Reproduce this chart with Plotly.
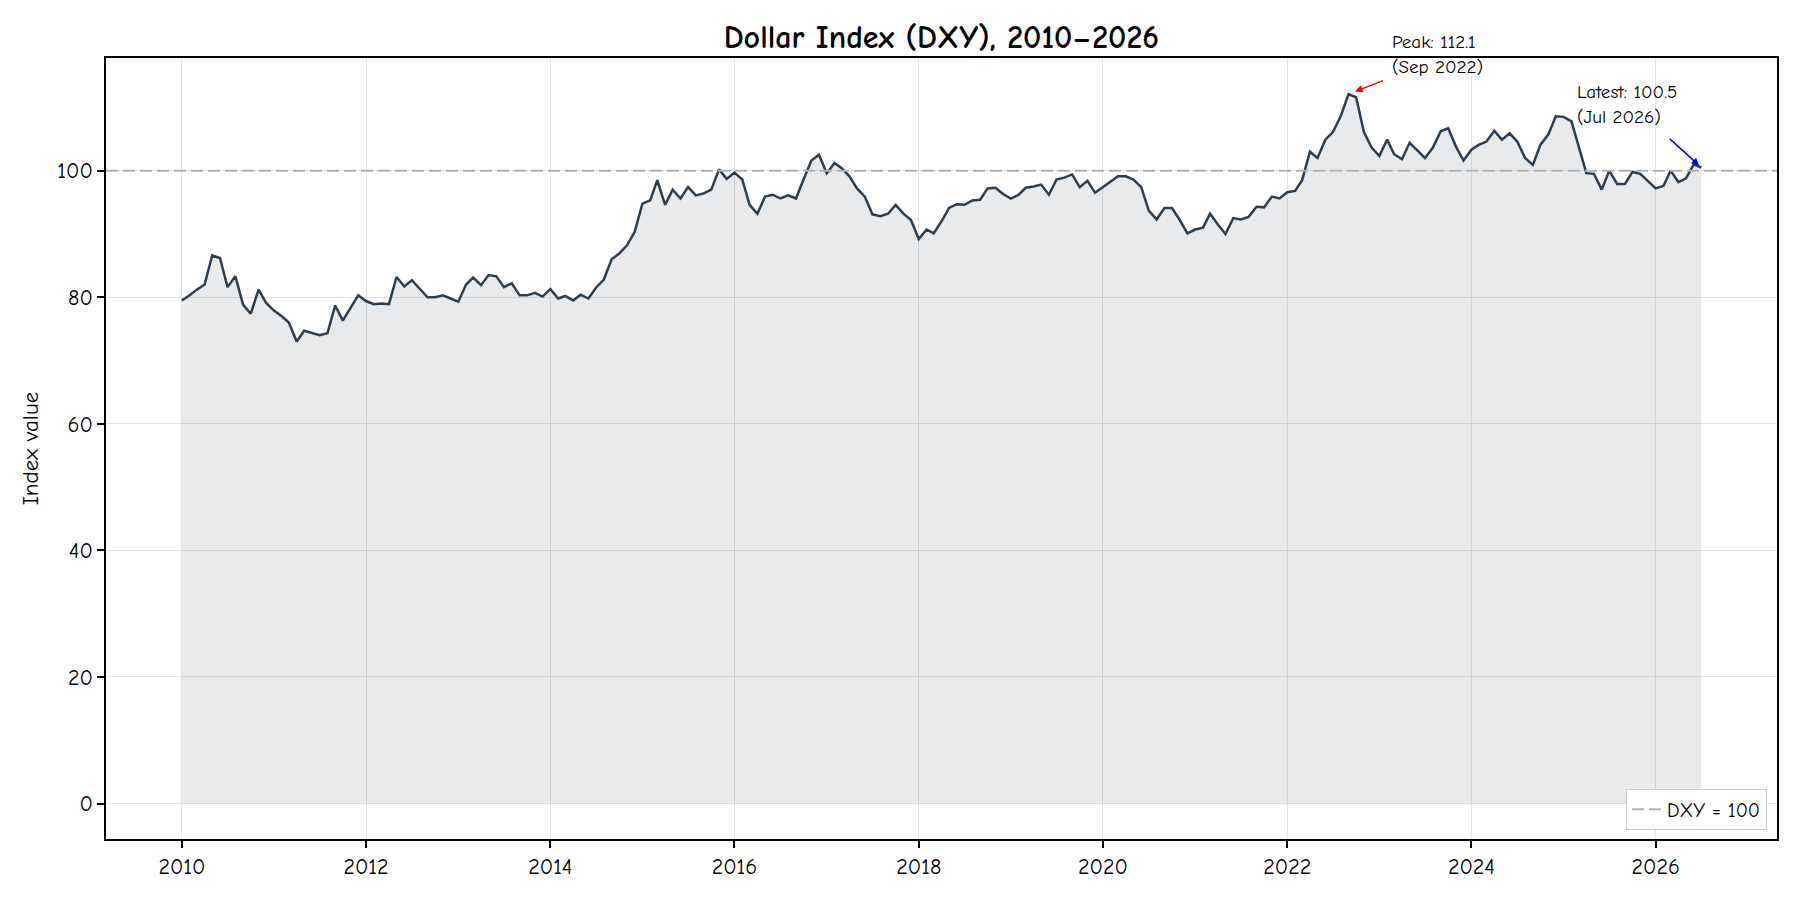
import numpy as np
import pandas as pd
import plotly.graph_objects as go

# Monthly DXY values (Jan 2010 .. Jul 2026)
v2010 = [79.5, 80.3, 81.2, 82.0, 86.6, 86.2, 81.6, 83.3, 78.8, 77.4, 81.2, 79.1]
v2011 = [77.9, 77.0, 76.0, 73.0, 74.7, 74.4, 74.0, 74.3, 78.7, 76.3, 78.3, 80.3]
v2012 = [79.4, 78.9, 79.0, 78.9, 83.2, 81.7, 82.7, 81.3, 80.0, 80.0, 80.3, 79.8]
v2013 = [79.3, 82.0, 83.1, 81.9, 83.5, 83.3, 81.6, 82.2, 80.3, 80.3, 80.7, 80.1]
v2014 = [81.3, 79.8, 80.2, 79.5, 80.4, 79.8, 81.5, 82.8, 86.0, 86.9, 88.2, 90.3]
v2015 = [94.8, 95.3, 98.5, 94.6, 97.0, 95.6, 97.4, 96.1, 96.4, 97.0, 100.2, 98.7]
v2016 = [99.7, 98.6, 94.6, 93.2, 95.9, 96.2, 95.6, 96.1, 95.6, 98.6, 101.6, 102.5]
v2017 = [99.6, 101.2, 100.4, 99.1, 97.2, 95.9, 93.1, 92.8, 93.2, 94.6, 93.2, 92.2]
v2018 = [89.2, 90.7, 90.1, 92.0, 94.1, 94.7, 94.6, 95.3, 95.4, 97.2, 97.3, 96.3]
v2019 = [95.6, 96.2, 97.3, 97.5, 97.8, 96.2, 98.6, 98.9, 99.4, 97.4, 98.4, 96.5]
v2020 = [97.4, 98.2, 99.1, 99.1, 98.6, 97.4, 93.7, 92.3, 94.1, 94.1, 92.2, 90.1]
v2021 = [90.7, 91.0, 93.2, 91.5, 90.0, 92.5, 92.3, 92.7, 94.3, 94.2, 95.9, 95.6]
v2022 = [96.6, 96.8, 98.5, 103.0, 102.0, 104.9, 106.1, 108.6, 112.1, 111.6, 106.1, 103.7]
v2023 = [102.3, 104.9, 102.6, 101.8, 104.4, 103.2, 102.0, 103.6, 106.2, 106.7, 103.8, 101.6]
v2024 = [103.3, 104.1, 104.6, 106.3, 104.9, 105.9, 104.6, 102.0, 100.9, 104.1, 105.7, 108.6]
v2025 = [108.5, 107.8, 103.7, 99.6, 99.5, 97.0, 100.0, 97.9, 97.9, 99.8, 99.5, 98.3]
v2026 = [97.2, 97.6, 100.0, 98.2, 98.8, 101.0, 100.5]

values = (v2010 + v2011 + v2012 + v2013 + v2014 + v2015 + v2016 + v2017 +
          v2018 + v2019 + v2020 + v2021 + v2022 + v2023 + v2024 + v2025 + v2026)
dates = pd.date_range("2010-01-01", periods=len(values), freq="MS")

y_ticks = [0, 20, 40, 60, 80, 100]
ref_level = 100

FONT = "Comic Sans MS, Comic Neue, DejaVu Sans, sans-serif"
LINE_COLOR = "#2c3e50"

vals = np.array(values)
i_peak = int(np.argmax(vals))
peak_date, peak_val = dates[i_peak], vals[i_peak]
last_date, last_val = dates[-1], vals[-1]

fig = go.Figure()
fig.add_trace(go.Scatter(
    x=dates, y=values, mode="lines", fill="tozeroy",
    fillcolor="rgba(44,62,80,0.11)",
    line=dict(color=LINE_COLOR, width=2.5),
    showlegend=False, hoverinfo="x+y",
))

fig.add_hline(y=ref_level, line=dict(color="rgb(178,178,178)", width=2, dash="12px,5px"),
              showlegend=True, name="DXY = 100", layer="above")

# Peak annotation
fig.add_annotation(x=peak_date, y=peak_val, text="", showarrow=True,
                   arrowhead=2, arrowsize=1, arrowwidth=1.5, arrowcolor="red",
                   ax=36, ay=-14, standoff=7)
fig.add_annotation(x=peak_date, y=peak_val,
                   text=f"Peak: {peak_val:.1f}<br>(Sep 2022)",
                   showarrow=False, xanchor="left", yanchor="bottom", align="left",
                   xshift=41, yshift=14, font=dict(family=FONT, size=19, color="black"))

# Latest annotation
fig.add_annotation(x=last_date, y=last_val, text="", showarrow=True,
                   arrowhead=2, arrowsize=1, arrowwidth=1.5, arrowcolor="blue",
                   ax=-33, ay=-30, standoff=3)
fig.add_annotation(x=last_date, y=last_val,
                   text=f"Latest: {last_val:.1f}<br>(Jul 2026)",
                   showarrow=False, xanchor="left", yanchor="bottom", align="left",
                   xshift=-126, yshift=37, font=dict(family=FONT, size=19, color="black"))

axis_common = dict(
    showline=True, linecolor="black", linewidth=1.5, mirror=True,
    ticks="outside", ticklen=7, tickwidth=1.5, tickcolor="black",
    showgrid=True, gridcolor="#e4e4e4", gridwidth=1,
    zeroline=False, tickfont=dict(family=FONT, size=22, color="black"),
)

fig.update_xaxes(type="date", range=["2009-03-06", "2027-04-27"],
                 tick0="2010-01-01", dtick="M24", tickformat="%Y", **axis_common)
fig.update_yaxes(range=[-5.6, 117.8], tickvals=y_ticks,
                 title=dict(text="Index value", font=dict(family=FONT, size=23, color="black"),
                            standoff=12),
                 **axis_common)

fig.update_layout(
    width=1800, height=900,
    margin=dict(l=106, r=23, t=58, b=61),
    paper_bgcolor="white", plot_bgcolor="white",
    title=dict(text="<b>Dollar Index (DXY), 2010–2026</b>", x=0.523, xanchor="center",
               y=1 - 37 / 900, yanchor="middle", yref="container",
               font=dict(family=FONT, size=32, color="black")),
    legend=dict(x=0.994, y=0.012, xanchor="right", yanchor="bottom",
                bgcolor="white", bordercolor="#cccccc", borderwidth=1,
                font=dict(family=FONT, size=20, color="black")),
    font=dict(family=FONT),
)

fig.write_html("out.html")
